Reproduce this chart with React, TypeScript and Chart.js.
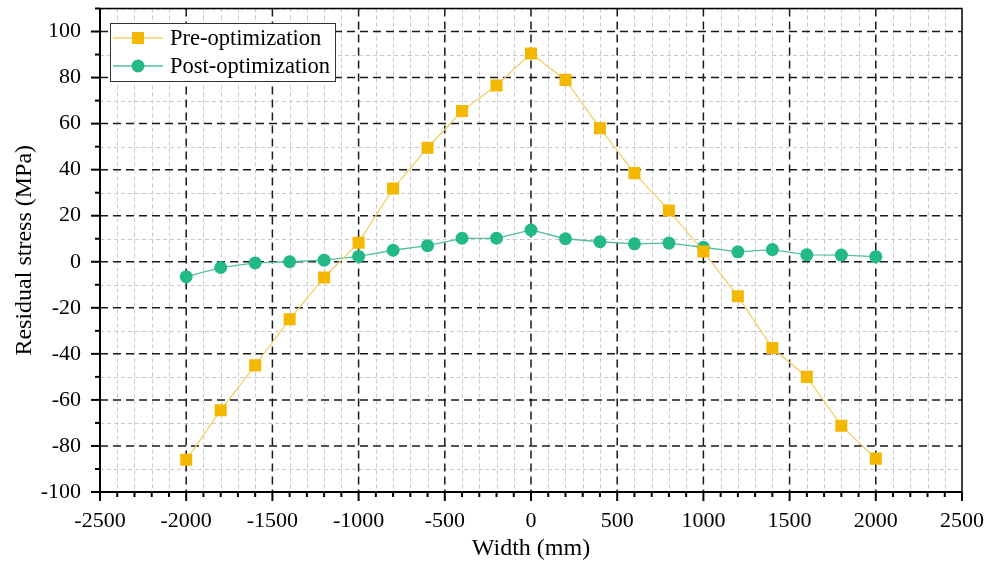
import React, { useEffect, useRef } from "react";
import { Chart, registerables } from "chart.js";

Chart.register(...registerables);

const widths = [-2000, -1800, -1600, -1400, -1200, -1000, -800, -600, -400, -200, 0, 200, 400, 600, 800, 1000, 1200, 1400, 1600, 1800, 2000];
const preOptimization = [-86, -64.5, -45, -25, -6.8, 8.3, 31.8, 49.5, 65.5, 76.6, 90.5, 79, 58, 38.5, 22.3, 4.5, -15, -37.5, -50, -71.2, -85.5];
const postOptimization = [-6.5, -2.5, -0.5, 0, 0.7, 2.3, 5, 7, 10.2, 10.2, 13.8, 10, 8.7, 7.8, 8.1, 6.3, 4.3, 5.3, 3, 2.9, 2.2];
const xTicks = [-2500, -2000, -1500, -1000, -500, 0, 500, 1000, 1500, 2000, 2500];
const yTicks = [-100, -80, -60, -40, -20, 0, 20, 40, 60, 80, 100];
const seriesNames = ["Pre-optimization", "Post-optimization"];

const FONT = "'Liberation Serif', 'Times New Roman', serif";

const framePlugin = {
  id: "frame",
  beforeDatasetsDraw(chart: any) {
    const { ctx, chartArea: a, scales } = chart;
    const xs = scales.x, ys = scales.y;
    ctx.save();
    // minor grid
    ctx.lineWidth = 1;
    ctx.strokeStyle = "#c9c9c9";
    ctx.setLineDash([4, 3]);
    for (let v = -2400; v <= 2400; v += 100) {
      if (v % 500 === 0) continue;
      const px = Math.round(xs.getPixelForValue(v)) + 0.5;
      ctx.beginPath(); ctx.moveTo(px, a.top); ctx.lineTo(px, a.bottom); ctx.stroke();
    }
    for (let v = -90; v <= 110; v += 10) {
      if (v % 20 === 0) continue;
      const py = Math.round(ys.getPixelForValue(v)) + 0.5;
      ctx.beginPath(); ctx.moveTo(a.left, py); ctx.lineTo(a.right, py); ctx.stroke();
    }
    // major grid
    ctx.lineWidth = 1.5;
    ctx.strokeStyle = "#1a1a1a";
    ctx.setLineDash([8, 5]);
    xTicks.forEach((v) => {
      if (v === -2500 || v === 2500) return;
      const px = xs.getPixelForValue(v);
      ctx.beginPath(); ctx.moveTo(px, a.top); ctx.lineTo(px, a.bottom); ctx.stroke();
    });
    yTicks.forEach((v) => {
      if (v === -100) return;
      const py = ys.getPixelForValue(v);
      ctx.beginPath(); ctx.moveTo(a.left, py); ctx.lineTo(a.right, py); ctx.stroke();
    });
    ctx.restore();
  },
  afterDatasetsDraw(chart: any) {
    const { ctx, chartArea: a, scales } = chart;
    const xs = scales.x, ys = scales.y;
    ctx.save();
    ctx.setLineDash([]);
    ctx.strokeStyle = "#000";
    ctx.lineWidth = 1.5;
    ctx.beginPath();
    ctx.moveTo(a.left, a.top); ctx.lineTo(a.right, a.top); ctx.lineTo(a.right, a.bottom);
    ctx.stroke();
    ctx.lineWidth = 2;
    ctx.beginPath();
    ctx.moveTo(a.left, a.top); ctx.lineTo(a.left, a.bottom); ctx.lineTo(a.right, a.bottom);
    ctx.stroke();
    for (let v = -2500; v <= 2500; v += 100) {
      const major = v % 500 === 0;
      const px = xs.getPixelForValue(v);
      ctx.lineWidth = 2;
      ctx.beginPath(); ctx.moveTo(px, a.bottom); ctx.lineTo(px, a.bottom + (major ? 9 : 5)); ctx.stroke();
    }
    for (let v = -100; v <= 110; v += 10) {
      const major = v % 20 === 0;
      const py = ys.getPixelForValue(v);
      ctx.lineWidth = 2;
      ctx.beginPath(); ctx.moveTo(a.left, py); ctx.lineTo(a.left - (major ? 9 : 5), py); ctx.stroke();
    }
    ctx.restore();
  },
  afterDraw(chart: any) {
    const { ctx } = chart;
    const bx = 110, by = 23, bw = 225, bh = 58;
    ctx.save();
    ctx.fillStyle = "#fff";
    ctx.fillRect(bx, by, bw, bh);
    ctx.strokeStyle = "#333";
    ctx.lineWidth = 1;
    ctx.strokeRect(bx + 0.5, by + 0.5, bw, bh);
    chart.data.datasets.forEach((ds: any, i: number) => {
      const cy = by + 15 + i * 28;
      ctx.strokeStyle = ds.borderColor;
      ctx.lineWidth = 1.3;
      ctx.beginPath(); ctx.moveTo(bx + 3, cy); ctx.lineTo(bx + 53, cy); ctx.stroke();
      ctx.fillStyle = ds.pointBackgroundColor;
      if (ds.pointStyle === "rect") {
        ctx.fillRect(bx + 28 - 6, cy - 6, 12, 12);
      } else {
        ctx.beginPath(); ctx.arc(bx + 28, cy, 6.5, 0, Math.PI * 2); ctx.fill();
      }
      ctx.fillStyle = "#000";
      ctx.font = `22.5px ${FONT}`;
      ctx.textBaseline = "middle";
      ctx.textAlign = "left";
      ctx.fillText(ds.label, bx + 60, cy + 1);
    });
    ctx.restore();
  },
};

export default function App() {
  const ref = useRef<HTMLCanvasElement>(null);
  useEffect(() => {
    document.body.style.margin = "0";
    const chart = new Chart(ref.current!, {
      type: "line",
      data: {
        datasets: [
          {
            label: seriesNames[0],
            data: widths.map((w, i) => ({ x: w, y: preOptimization[i] })),
            borderColor: "#f1cf6a",
            borderWidth: 1.3,
            pointStyle: "rect",
            pointRadius: 8.5,
            pointBackgroundColor: "#f5b800",
            pointBorderColor: "#f5b800",
            pointBorderWidth: 0,
          },
          {
            label: seriesNames[1],
            data: widths.map((w, i) => ({ x: w, y: postOptimization[i] })),
            borderColor: "#52bfa0",
            borderWidth: 1.3,
            pointStyle: "circle",
            pointRadius: 6.5,
            pointBackgroundColor: "#22b887",
            pointBorderColor: "#22b887",
            pointBorderWidth: 0,
          },
        ],
      },
      options: {
        animation: false,
        responsive: false,
        layout: { padding: { top: 8, right: 25, left: 0, bottom: 0 } },
        plugins: { legend: { display: false }, tooltip: { enabled: false } },
        scales: {
          x: {
            type: "linear",
            min: -2500,
            max: 2500,
            afterBuildTicks: (s: any) => { s.ticks = xTicks.map((v) => ({ value: v })); },
            afterFit: (s: any) => { s.height = 71; s.paddingLeft = 0; s.paddingRight = 0; },
            grid: { display: false, drawTicks: false },
            border: { display: false },
            ticks: { color: "#000", font: { family: FONT, size: 22 }, padding: 16, maxRotation: 0, autoSkip: false, callback: (v: any) => String(v) },
            title: { display: true, text: "Width (mm)", color: "#000", font: { family: FONT, size: 24 }, padding: { top: 0, bottom: 0 } },
          },
          y: {
            type: "linear",
            min: -100,
            max: 110,
            afterBuildTicks: (s: any) => { s.ticks = yTicks.map((v) => ({ value: v })); },
            afterFit: (s: any) => { s.width = 100; s.paddingTop = 0; s.paddingBottom = 0; },
            grid: { display: false, drawTicks: false },
            border: { display: false },
            ticks: { color: "#000", font: { family: FONT, size: 22 }, padding: 19, autoSkip: false, callback: (v: any) => String(v) },
            title: { display: true, text: "Residual stress (MPa)", color: "#000", font: { family: FONT, size: 24 }, padding: { top: 10, bottom: 0 } },
          },
        },
      },
      plugins: [framePlugin],
    });
    return () => chart.destroy();
  }, []);
  return (
    <div style={{ position: "absolute", left: 0, top: 0, width: 987, height: 563, background: "#fff" }}>
      <canvas ref={ref} width={987} height={563} style={{ width: 987, height: 563 }} />
    </div>
  );
}
